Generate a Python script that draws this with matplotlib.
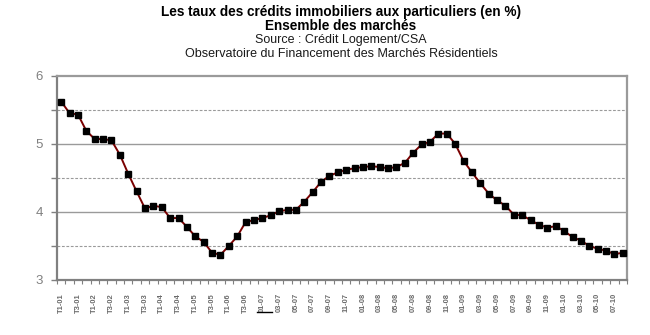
import matplotlib
matplotlib.use("Agg")
import matplotlib.pyplot as plt
from matplotlib.lines import Line2D
import numpy as np

plt.rcParams['font.family'] = ['Liberation Sans', 'DejaVu Sans']

# Period labels: quarterly 2001-2006, then monthly Jan 2007 - Aug 2010
quarters = [f"T{q}-{y:02d}" for y in range(1, 7) for q in range(1, 5)]
months = [f"{m:02d}-{y:02d}" for y in range(7, 11) for m in range(1, 13)][:44]
periods = quarters + months

rates = [5.62, 5.45, 5.43, 5.19, 5.07, 5.07, 5.05, 4.84, 4.56, 4.30,
         4.05, 4.09, 4.07, 3.91, 3.91, 3.78, 3.64, 3.56, 3.40, 3.37,
         3.50, 3.64, 3.85, 3.88,
         3.91, 3.95, 4.01, 4.03, 4.03, 4.15, 4.29, 4.44, 4.53, 4.58,
         4.62, 4.64, 4.66, 4.67, 4.66, 4.64, 4.66, 4.72, 4.87, 4.99,
         5.03, 5.15, 5.15, 5.00, 4.75, 4.58, 4.42, 4.27, 4.17, 4.09,
         3.96, 3.95, 3.88, 3.81, 3.77, 3.79, 3.72, 3.63, 3.58, 3.50,
         3.46, 3.43, 3.38, 3.40]

title_lines = ["Les taux des crédits immobiliers aux particuliers (en %)",
               "Ensemble des marchés",
               "Source : Crédit Logement/CSA",
               "Observatoire du Financement des Marchés Résidentiels"]

fig = plt.figure(figsize=(6.5, 3.35), dpi=100)
ax = fig.add_axes([57/650, 1-280/335, (627-57)/650, (280-75.7)/335])

n = len(rates)
x = np.arange(n)
ax.plot(x, rates, color='#7a0000', lw=1.4, marker='s', markersize=4.2,
        markerfacecolor='black', markeredgecolor='black', zorder=3)

ax.set_xlim(-0.5, n - 0.5)
ax.set_ylim(3, 6)

# gridlines
for yv in [4, 5]:
    ax.axhline(yv, color='#9a9a9a', lw=1.0, zorder=1)
for yv in [3.5, 4.5, 5.5]:
    ax.axhline(yv, color='#9a9a9a', lw=0.8, ls=(0, (2.5, 1.5)), zorder=1)

ax.set_yticks([3, 4, 5, 6])
ax.set_yticks([3.5, 4.5, 5.5], minor=True)
ax.set_yticklabels(['3', '4', '5', '6'], fontsize=9.5, color='#808080')
ax.tick_params(axis='y', which='both', length=4, width=1, color='#808080', pad=6)

# x ticks: tick marks at category boundaries, labels every 2 categories
ax.set_xticks(np.arange(-0.5, n, 1.0))
ax.set_xticklabels([])
ax.set_xticks(x[::2], minor=True)
ax.set_xticklabels(periods[::2], minor=True, rotation=90, fontsize=5.4,
                   fontweight='bold', color='#6a6a6a')
ax.tick_params(axis='x', which='major', length=3, width=0.8, color='#808080')
ax.tick_params(axis='x', which='minor', length=0, pad=9.5)

for s in ['left', 'bottom']:
    ax.spines[s].set_color('#808080')
    ax.spines[s].set_linewidth(1.6)
for s in ['top', 'right']:
    ax.spines[s].set_color('#9a9a9a')
    ax.spines[s].set_linewidth(1.6)

# titles
ys = [12, 26, 40, 54]
for i, (t, yy) in enumerate(zip(title_lines, ys)):
    fig.text(341/650, 1 - yy/335, t, ha='center', va='center',
             fontsize=9.8 if i < 2 else 9.0,
             fontweight='bold' if i < 2 else 'normal',
             color='black' if i < 2 else '#1a1a1a')

# small stray stroke near the 01-07 label
fig.add_artist(Line2D([257/650, 272/650], [1-312/335, 1-312/335],
                      color='black', lw=1.0))

fig.savefig('out.png', dpi=100)
